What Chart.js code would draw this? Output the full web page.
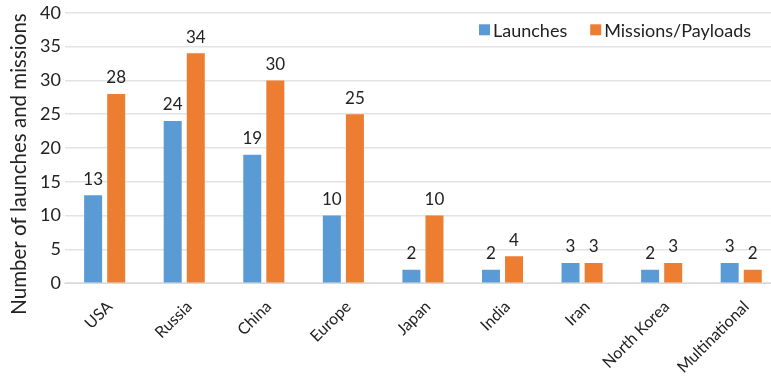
<!DOCTYPE html>
<html>
<head>
<meta charset="utf-8">
<script src="https://cdn.jsdelivr.net/npm/chart.js@4.4.1/dist/chart.umd.min.js"></script>
<style>
  html, body { margin: 0; padding: 0; background: #fff; overflow: hidden; }
  #wrap { width: 771px; height: 384px; overflow: hidden; position: relative; }
  #box { width: 781px; height: 385px; position: absolute; left: 0; top: -2px; }
</style>
</head>
<body>
<div id="wrap"><div id="box"><canvas id="c"></canvas></div></div>
<script>
const countries = ['USA', 'Russia', 'China', 'Europe', 'Japan', 'India', 'Iran', 'North Korea', 'Multinational'];
const launches = [13, 24, 19, 10, 2, 2, 3, 2, 3];
const missions = [28, 34, 30, 25, 10, 4, 3, 3, 2];
const yTicks = [0, 5, 10, 15, 20, 25, 30, 35, 40];
const yTitle = 'Number of launches and missions';

const FONT = 'Lato, "Open Sans", sans-serif';
const TEXT = '#222222';

// Writes each bar's value just above it
const valueLabels = {
  id: 'valueLabels',
  afterDatasetsDraw(chart) {
    const ctx = chart.ctx;
    ctx.save();
    ctx.font = '17px ' + FONT;
    ctx.fillStyle = TEXT;
    ctx.textAlign = 'center';
    ctx.textBaseline = 'middle';
    chart.data.datasets.forEach((ds, i) => {
      chart.getDatasetMeta(i).data.forEach((bar, j) => {
        ctx.fillText(String(ds.data[j]), bar.x, bar.y - 16);
      });
    });
    ctx.restore();
  }
};

// Legend drawn inside the plot area, top right, plus the vertical axis title
const innerLegend = {
  id: 'innerLegend',
  afterDraw(chart) {
    const ctx = chart.ctx;
    const area = chart.chartArea;
    ctx.save();
    ctx.font = '18px ' + FONT;
    ctx.textBaseline = 'middle';
    ctx.textAlign = 'left';
    const y = area.top + 17;
    const box = 11, gapText = 3, gapItem = 23;
    const items = chart.data.datasets.map(ds => ({ text: ds.label, color: ds.backgroundColor }));
    let total = 0;
    items.forEach((it, k) => {
      total += box + gapText + ctx.measureText(it.text).width + (k < items.length - 1 ? gapItem : 0);
    });
    let x = area.right - 30 - total;
    items.forEach(it => {
      ctx.fillStyle = it.color;
      ctx.fillRect(x, y - box / 2, box, box);
      x += box + gapText;
      ctx.fillStyle = TEXT;
      ctx.fillText(it.text, x, y + 1);
      x += ctx.measureText(it.text).width + gapItem;
    });

    ctx.font = '20.5px ' + FONT;
    ctx.textAlign = 'center';
    ctx.translate(19, 166);
    ctx.rotate(-Math.PI / 2);
    ctx.fillText(yTitle, 0, 0);
    ctx.restore();
  }
};

new Chart(document.getElementById('c'), {
  type: 'bar',
  data: {
    labels: countries,
    datasets: [
      { label: 'Launches', data: launches, backgroundColor: '#5b9bd5' },
      { label: 'Missions/Payloads', data: missions, backgroundColor: '#ed7d31' }
    ]
  },
  options: {
    responsive: true,
    maintainAspectRatio: false,
    animation: false,
    layout: { padding: { top: 0, right: 0, bottom: 0, left: 36 } },
    datasets: { bar: { categoryPercentage: 0.58, barPercentage: 0.78 } },
    scales: {
      x: {
        grid: { display: false },
        border: { color: '#d9d9d9' },
        ticks: {
          font: { family: FONT, size: 16 },
          color: TEXT,
          minRotation: 45,
          maxRotation: 45,
          padding: 6,
          labelOffset: 5
        }
      },
      y: {
        min: 0,
        max: 40,
        afterBuildTicks(axis) { axis.ticks = yTicks.map(v => ({ value: v })); },
        grid: { color: '#e3e3e3', lineWidth: 1.5, drawTicks: false },
        border: { display: false },
        ticks: {
          font: { family: FONT, size: 18 },
          color: TEXT,
          padding: 4
        }
      }
    },
    plugins: {
      legend: { display: false },
      tooltip: { enabled: false }
    }
  },
  plugins: [valueLabels, innerLegend]
});
</script>
</body>
</html>
